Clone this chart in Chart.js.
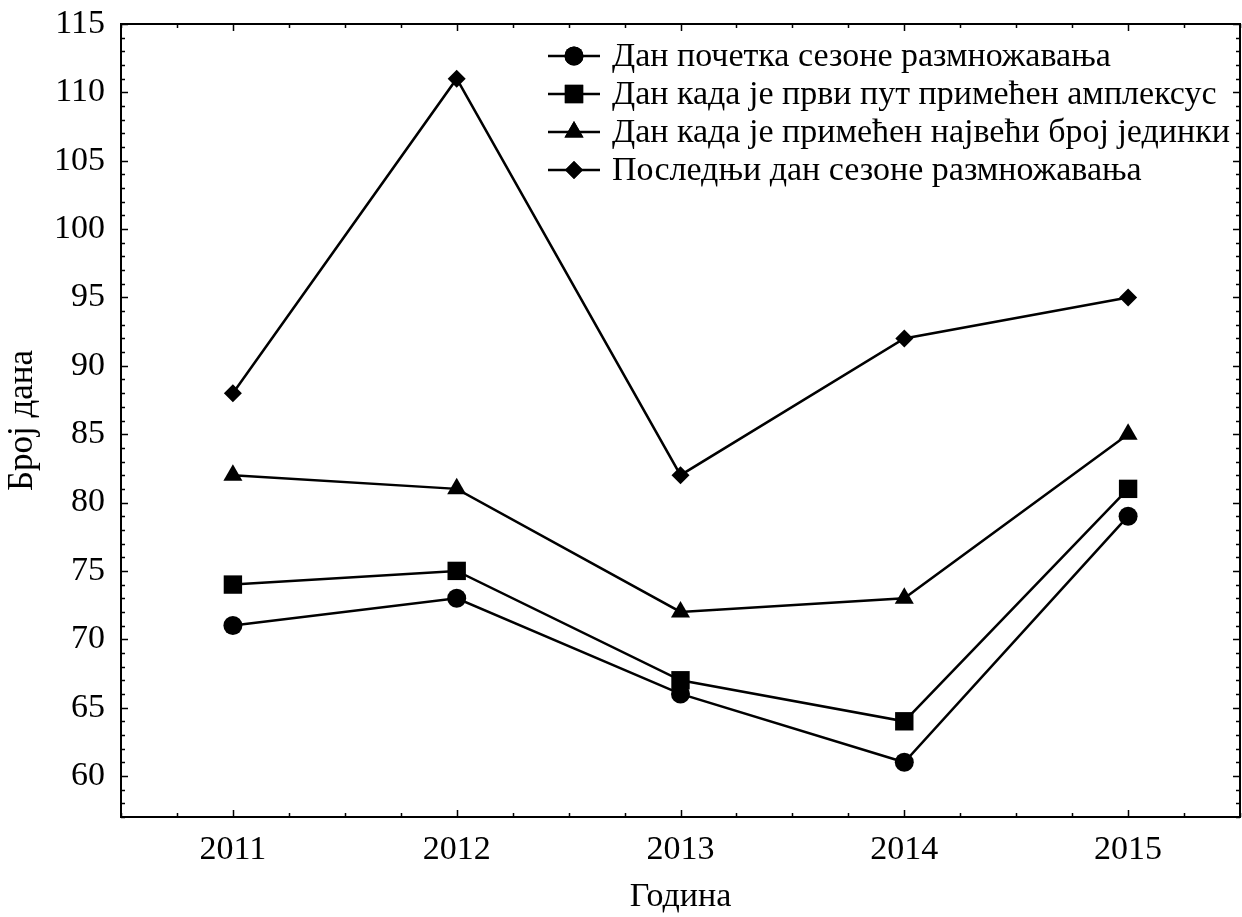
<!DOCTYPE html>
<html>
<head>
<meta charset="utf-8">
<style>
  html, body { margin: 0; padding: 0; background: #fff; }
  canvas { display: block; }
</style>
<script src="https://cdn.jsdelivr.net/npm/chart.js@4/dist/chart.umd.min.js"></script>
</head>
<body>
<canvas id="chart" width="1242" height="917"></canvas>
<script>
const years = [2011, 2012, 2013, 2014, 2015];
const seasonStart = [71, 73, 66, 61, 79];
const firstAmplexus = [74, 75, 67, 64, 81];
const peakCount = [82, 81, 72, 73, 85];
const seasonEnd = [88, 111, 82, 92, 95];

const seriesLabels = [
    "Дан почетка сезоне размножавања",
    "Дан када је први пут примећен амплексус",
    "Дан када је примећен највећи број јединки",
    "Последњи дан сезоне размножавања",
];
const yTickValues = [60, 65, 70, 75, 80, 85, 90, 95, 100, 105, 110, 115];

const FONT = "'Liberation Serif', 'Times New Roman', serif";

const toPoints = (values) => values.map((v, i) => ({ x: years[i], y: v }));

function makeSeries(label, values, style, radius) {
    return {
        label,
        data: toPoints(values),
        borderColor: "#000",
        backgroundColor: "#000",
        borderWidth: 2.5,
        pointStyle: style,
        pointRadius: radius,
        pointHoverRadius: radius,
        pointBorderWidth: 0,
        pointBackgroundColor: "#000",
        tension: 0,
    };
}

// frame and inward ticks on all four sides
const frameTicks = {
    id: "frameTicks",
    afterDraw(chart) {
        const { ctx, chartArea: a, scales } = chart;
        const x = scales.x;
        const y = scales.y;
        ctx.save();
        ctx.strokeStyle = "#000";
        ctx.lineWidth = 2;
        ctx.strokeRect(a.left, a.top, a.right - a.left, a.bottom - a.top);
        ctx.lineWidth = 1.5;
        ctx.beginPath();
        for (let v = Math.ceil(y.min); v <= y.max; v++) {
            const py = Math.round(y.getPixelForValue(v)) + 0.5;
            const len = v % 5 === 0 ? 7 : 4;
            ctx.moveTo(a.left, py);
            ctx.lineTo(a.left + len, py);
            ctx.moveTo(a.right, py);
            ctx.lineTo(a.right - len, py);
        }
        for (let q = Math.ceil(x.min * 4); q <= x.max * 4; q++) {
            const v = q / 4;
            const px = Math.round(x.getPixelForValue(v)) + 0.5;
            const len = q % 4 === 0 ? 7 : 4;
            ctx.moveTo(px, a.bottom);
            ctx.lineTo(px, a.bottom - len);
            ctx.moveTo(px, a.top);
            ctx.lineTo(px, a.top + len);
        }
        ctx.stroke();
        ctx.restore();
    },
};

// legend inside the plot, line + marker + text
const lineLegend = {
    id: "lineLegend",
    afterDraw(chart) {
        const { ctx } = chart;
        const x0 = 548, x1 = 600, tx = 612, top = 56, step = 38;
        ctx.save();
        ctx.font = "34px " + FONT;
        ctx.textBaseline = "middle";
        ctx.fillStyle = "#000";
        chart.data.datasets.forEach((ds, i) => {
            const cy = top + i * step;
            ctx.strokeStyle = "#000";
            ctx.lineWidth = 2.5;
            ctx.beginPath();
            ctx.moveTo(x0, cy);
            ctx.lineTo(x1, cy);
            ctx.stroke();
            Chart.helpers.drawPoint(ctx, {
                pointStyle: ds.pointStyle,
                radius: ds.pointRadius,
                rotation: 0,
                borderWidth: 0,
            }, (x0 + x1) / 2, cy);
            ctx.fillStyle = "#000";
            ctx.fill();
            ctx.fillText(ds.label, tx, cy + 1);
        });
        ctx.restore();
    },
};

new Chart(document.getElementById("chart"), {
    type: "line",
    data: {
        datasets: [
            makeSeries(seriesLabels[0], seasonStart, "circle", 9.5),
            makeSeries(seriesLabels[1], firstAmplexus, "rect", 13),
            makeSeries(seriesLabels[2], peakCount, "triangle", 11),
            makeSeries(seriesLabels[3], seasonEnd, "rectRot", 9),
        ],
    },
    options: {
        responsive: false,
        devicePixelRatio: 1,
        animation: false,
        layout: { autoPadding: false, padding: { top: 24, right: 2, left: 0, bottom: 0 } },
        plugins: { legend: { display: false }, tooltip: { enabled: false } },
        scales: {
            x: {
                type: "linear",
                min: 2010.5,
                max: 2015.5,
                afterBuildTicks: (scale) => { scale.ticks = years.map((v) => ({ value: v })); },
                afterFit: (scale) => {
                    scale.height = 100;
                    scale.paddingLeft = 0;
                    scale.paddingRight = 0;
                },
                grid: { display: false, drawTicks: false },
                border: { display: false },
                ticks: {
                    color: "#000",
                    padding: 13,
                    font: { family: FONT, size: 34 },
                    callback: (v) => String(v),
                },
                title: {
                    display: true,
                    text: "Година",
                    color: "#000",
                    font: { family: FONT, size: 34 },
                    padding: { top: 0, bottom: 0 },
                },
            },
            y: {
                min: 57,
                max: 115,
                afterBuildTicks: (scale) => { scale.ticks = yTickValues.map((v) => ({ value: v })); },
                afterFit: (scale) => {
                    scale.width = 121;
                    scale.paddingTop = 0;
                    scale.paddingBottom = 0;
                },
                grid: { display: false, drawTicks: false },
                border: { display: false },
                ticks: {
                    color: "#000",
                    padding: 16,
                    font: { family: FONT, size: 34 },
                },
                title: {
                    display: true,
                    text: "Број дана",
                    color: "#000",
                    font: { family: FONT, size: 35 },
                    padding: { top: 2, bottom: 0 },
                },
            },
        },
    },
    plugins: [frameTicks, lineLegend],
});
</script>
</body>
</html>
